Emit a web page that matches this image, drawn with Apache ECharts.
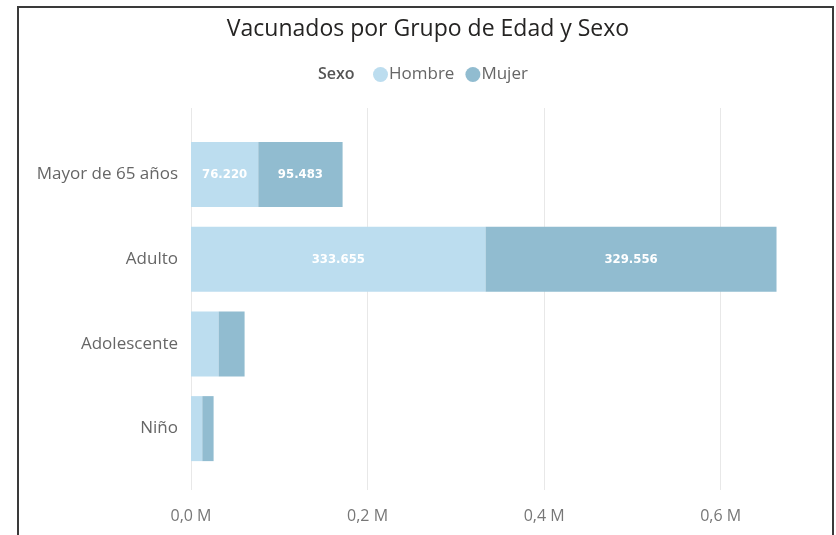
<!DOCTYPE html>
<html>
<head>
<meta charset="utf-8">
<script src="https://cdn.jsdelivr.net/npm/echarts@6/dist/echarts.min.js"></script>
<style>
  html, body { margin: 0; padding: 0; background: #fff; }
  #chart { width: 836px; height: 535px; }
</style>
</head>
<body>
<div id="chart"></div>
<script>
// Age groups, top to bottom
const categories = ['Mayor de 65 años', 'Adulto', 'Adolescente', 'Niño'];
// Vaccinated people by sex
const hombre = [76220, 333655, 31300, 12800];
const mujer = [95483, 329556, 29400, 12800];
// Value axis ticks (in people)
const axisMax = 700000;
const axisStep = 200000;

const FONT = '"Open Sans", "Noto Sans", sans-serif';
const LABEL_FONT = '"DejaVu Sans Condensed", "Roboto", sans-serif';

function fmtThousands(v) {
  return String(Math.round(v)).replace(/\B(?=(\d{3})+(?!\d))/g, '.');
}
function fmtMillions(v) {
  return (v / 1e6).toFixed(1).replace('.', ',') + ' M';
}
// Segment labels only where the segment is wide enough
function segData(values) {
  return values.map(v => ({ value: v, label: { show: v >= 50000 } }));
}

const chart = echarts.init(document.getElementById('chart'));
const gridLeft = 191, gridWidth = 618;

chart.setOption({
  backgroundColor: '#ffffff',
  animation: false,
  graphic: [
    { type: 'rect', shape: { x: 18, y: 7, width: 815, height: 540 },
      style: { fill: 'none', stroke: '#3a3a3a', lineWidth: 2 }, silent: true },
    { type: 'text', x: 428, y: 29,
      style: { text: 'Vacunados por Grupo de Edad y Sexo', fill: '#252423',
               font: '23px ' + FONT, textAlign: 'center', textVerticalAlign: 'middle' } },
    { type: 'text', x: 318, y: 74,
      style: { text: 'Sexo', fill: '#555555', font: '600 16px ' + FONT,
               textAlign: 'left', textVerticalAlign: 'middle' } }
  ],
  legend: {
    data: ['Hombre', 'Mujer'],
    left: 373, top: 66, padding: 0,
    icon: 'circle', itemWidth: 15, itemHeight: 15, itemGap: 11,
    textStyle: { color: '#666666', fontSize: 17, fontFamily: FONT, padding: [0, 0, 0, -4] }
  },
  grid: [
    { left: gridLeft, width: gridWidth, top: 108, bottom: 45 },
    { left: gridLeft, width: gridWidth, top: 132, height: 339 }
  ],
  xAxis: [
    { type: 'value', gridIndex: 0, min: 0, max: axisMax, interval: axisStep,
      axisLine: { show: false }, axisTick: { show: false },
      splitLine: { show: true, showMaxLine: false, lineStyle: { color: '#e8e8e8', width: 1 } },
      axisLabel: { showMaxLabel: false, formatter: fmtMillions, color: '#777777',
                   fontSize: 16, fontFamily: FONT, margin: 18 } },
    { type: 'value', gridIndex: 1, min: 0, max: axisMax, interval: axisStep, show: false,
      splitLine: { show: false } }
  ],
  yAxis: [
    { type: 'value', gridIndex: 0, show: false, splitLine: { show: false } },
    { type: 'category', gridIndex: 1, data: categories, inverse: true,
      axisLine: { show: false }, axisTick: { show: false },
      axisLabel: { color: '#666666', fontSize: 17, fontFamily: FONT, margin: 13,
                   padding: [8, 0, 0, 0] } }
  ],
  series: [
    { name: 'Hombre', type: 'bar', stack: 'sexo', xAxisIndex: 1, yAxisIndex: 1,
      data: segData(hombre), barWidth: 65,
      itemStyle: { color: '#bcddef' },
      label: { position: 'inside', color: '#ffffff', fontSize: 13, fontWeight: 'bold',
               fontFamily: LABEL_FONT, formatter: p => fmtThousands(p.value) } },
    { name: 'Mujer', type: 'bar', stack: 'sexo', xAxisIndex: 1, yAxisIndex: 1,
      data: segData(mujer), barWidth: 65,
      itemStyle: { color: '#91bcd0' },
      label: { position: 'inside', color: '#ffffff', fontSize: 13, fontWeight: 'bold',
               fontFamily: LABEL_FONT, formatter: p => fmtThousands(p.value) } }
  ]
});
</script>
</body>
</html>
